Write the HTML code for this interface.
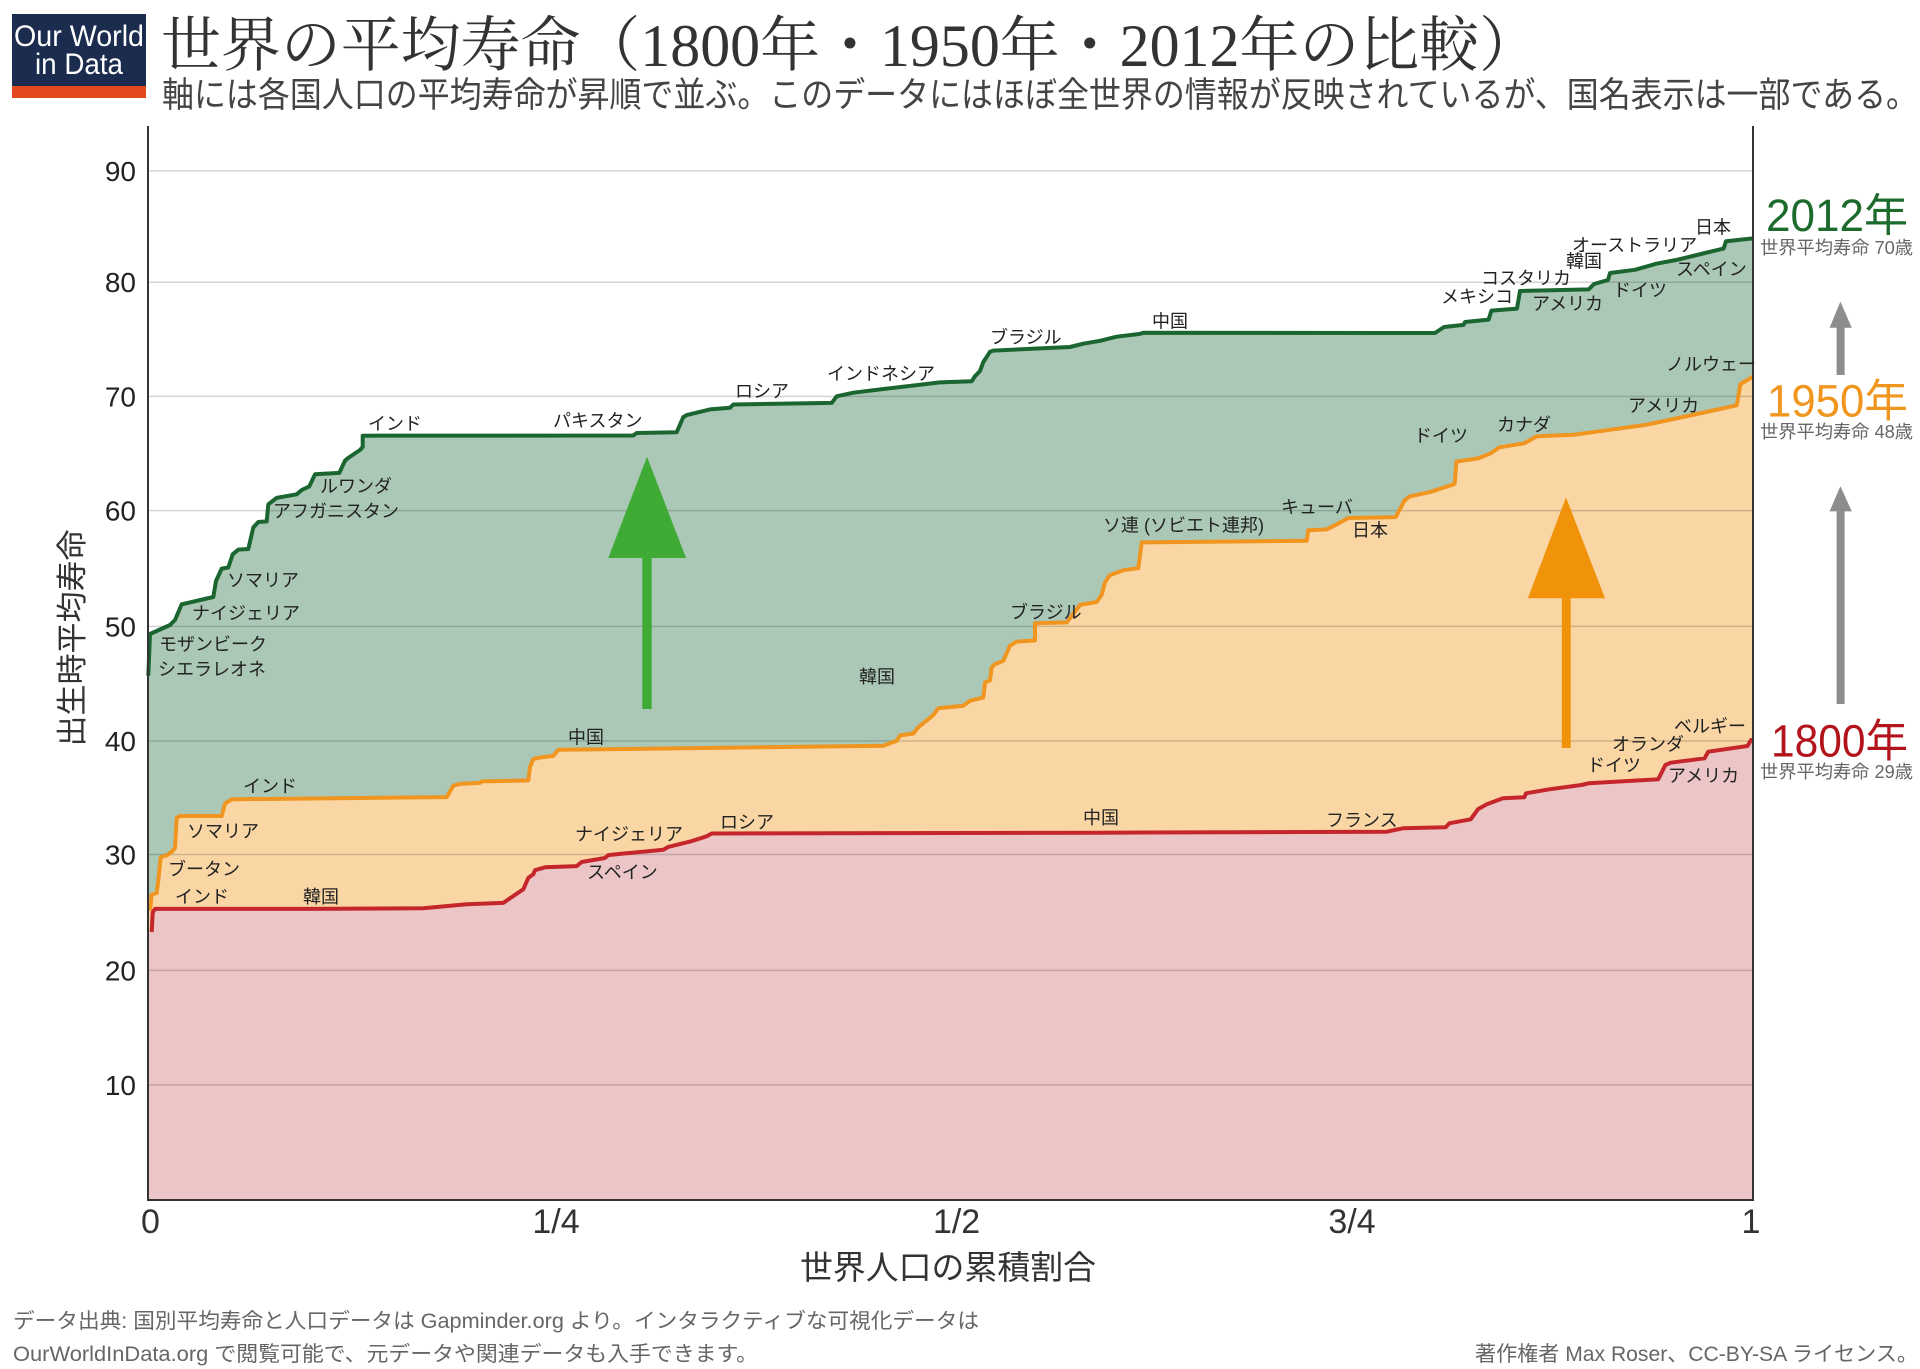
<!DOCTYPE html>
<html><head><meta charset="utf-8"><style>
html,body{margin:0;padding:0;background:#fff;}
svg{display:block;}
.lab{font-family:"Liberation Sans","Noto Sans CJK JP",sans-serif;font-size:18px;fill:#222;}
.tick{font-family:"Liberation Sans","Noto Sans CJK JP",sans-serif;font-size:28px;fill:#222;}
.xt{font-family:"Liberation Sans","Noto Sans CJK JP",sans-serif;font-size:34px;fill:#333;}
.sans{font-family:"Liberation Sans","Noto Sans CJK JP",sans-serif;}
</style></head><body>
<svg width="1920" height="1369" viewBox="0 0 1920 1369" xmlns="http://www.w3.org/2000/svg">
<rect width="1920" height="1369" fill="#fff"/>
<!-- logo -->
<rect x="12" y="14" width="134" height="84" fill="#1b2c4f"/>
<rect x="12" y="86" width="134" height="12" fill="#e2491e"/>
<text x="79" y="46" text-anchor="middle" class="sans" font-size="30" fill="#fff" textLength="130" lengthAdjust="spacingAndGlyphs">Our World</text>
<text x="79" y="74" text-anchor="middle" class="sans" font-size="30" fill="#fff" textLength="88" lengthAdjust="spacingAndGlyphs">in Data</text>
<!-- title -->
<text x="161" y="66" font-family="'Liberation Serif','Noto Serif CJK SC',serif" font-size="60" fill="#333" textLength="1378" lengthAdjust="spacingAndGlyphs">世界の平均寿命（1800年・1950年・2012年の比較）</text>
<text x="162" y="107" class="sans" font-size="35" fill="#444" textLength="1756" lengthAdjust="spacingAndGlyphs">軸には各国人口の平均寿命が昇順で並ぶ。このデータにはほぼ全世界の情報が反映されているが、国名表示は一部である。</text>

<!-- fills -->
<polygon fill="#abc8b6" points="148,1200 148,675.7 148.3,675.7 150,634 170,625 175,620 181.7,604.3 213.3,597 216,581 221.7,568.6 228.3,567.5 232.7,554.3 238.3,549.6 248.3,549 253.3,527.5 258.3,522 266.7,521.4 268.3,504.3 276.7,497.9 296.7,494.3 301.7,490 309.3,486.4 315,474.3 339.3,472.9 345,460.7 348.3,457.9 360,450 362.7,447 362.7,435.7 633.3,435.5 636.7,433 676.7,432.2 683.3,417.1 686.7,415.1 710,409.4 730,407.8 733.3,404.5 831.7,402.9 836.7,396.3 853.3,392.7 886.7,388.6 940,382.4 971.7,381.2 975,376.3 980,371 983.3,362 990,351.8 993.3,350.6 1070,347 1083.3,343.7 1100,340.8 1116.7,336.7 1140,333.9 1143.3,332.7 1435,333 1444,327 1463.6,324.9 1465,322 1488.6,319.6 1491.4,310.6 1517,308.6 1520,291 1588.6,289.4 1594,284 1608,280 1610,273 1635,269.8 1656.4,263.7 1678,259.6 1703,253.5 1723.6,248.6 1726,241.2 1753,238.4 1753,1200"/>
<polygon fill="#fad6a5" points="148,1200 148,910.7 150,910.7 151.7,894.6 156.7,893 158.3,880.4 160.7,857 166.7,855.4 171.7,851.8 175,848 176.7,817.9 180,816 221.7,816 225,803.6 231.7,799.3 446.7,797.1 453.3,785.7 460,783.9 480,782.9 481.7,781.4 528.3,780.4 530,767 533.3,759 540,757.5 553.3,755.9 558.3,749.8 883.3,745.7 896.7,740.8 900,735.5 913.3,733.5 918.3,727.3 933.3,715.1 938.3,708.2 963.3,705.7 970,700.8 983.3,697.6 985,682.4 990,680.4 991.7,667.3 995,664.1 1003.3,660.8 1010,645.7 1016.7,641.6 1035,640.4 1035,623.3 1066.7,622.4 1080,604.9 1096.7,602 1101.7,594.7 1105,582.4 1110,575.1 1123.3,570.2 1138.3,568.2 1141.7,542.4 1306.7,540.8 1308.3,530.2 1326.7,529.4 1333.3,526.1 1348.3,518 1395.7,517.1 1404.6,500.4 1410,496.3 1429.6,492.2 1454.6,484 1456.4,461.6 1477.9,458.4 1490.4,453.5 1499.3,447.3 1524.3,443.3 1536.8,436.3 1574.3,434.7 1610,429.8 1645.7,424.9 1699.3,413.5 1736.8,405.3 1740.4,384.1 1753,376.7 1753,1200"/>
<polygon fill="#ecc6c6" points="148,1200 148,932 151.7,932 152.7,912.5 155,908.9 306.7,908.9 423.3,908.2 466.7,904.3 503.3,902.9 510,898.2 523.3,889.3 528.3,877.9 533.3,874.3 535,870.2 545,867.3 576.7,866.1 581.7,862 605,858 608.3,855.1 620,853.9 663.3,849.8 668.3,846.9 690,841.6 706.7,836.3 711.7,833.5 1100,832.7 1386.8,831.7 1402.9,828.3 1445.7,827.3 1449.3,823.3 1470.7,819.3 1477.9,809.3 1486.8,804.3 1502.9,798.3 1524.3,797.3 1526,793.3 1549.3,789.3 1581.4,785 1588.6,783.3 1658.2,779.3 1665.4,765 1670.7,762.7 1704.6,758.3 1708.2,751.7 1747.5,746 1751,740 1753,740 1753,1200"/>

<!-- gridlines -->
<g stroke="rgba(0,0,0,0.17)" stroke-width="1.5">
<line x1="148" x2="1753" y1="170.8" y2="170.8"/>
<line x1="148" x2="1753" y1="282.2" y2="282.2"/>
<line x1="148" x2="1753" y1="396.4" y2="396.4"/>
<line x1="148" x2="1753" y1="510.6" y2="510.6"/>
<line x1="148" x2="1753" y1="626.4" y2="626.4"/>
<line x1="148" x2="1753" y1="741" y2="741"/>
<line x1="148" x2="1753" y1="854.5" y2="854.5"/>
<line x1="148" x2="1753" y1="970.4" y2="970.4"/>
<line x1="148" x2="1753" y1="1085" y2="1085"/>
</g>

<!-- lines -->
<g fill="none" stroke-width="4" stroke-linejoin="round">
<polyline stroke="#1b6630" points="148.3,675.7 150,634 170,625 175,620 181.7,604.3 213.3,597 216,581 221.7,568.6 228.3,567.5 232.7,554.3 238.3,549.6 248.3,549 253.3,527.5 258.3,522 266.7,521.4 268.3,504.3 276.7,497.9 296.7,494.3 301.7,490 309.3,486.4 315,474.3 339.3,472.9 345,460.7 348.3,457.9 360,450 362.7,447 362.7,435.7 633.3,435.5 636.7,433 676.7,432.2 683.3,417.1 686.7,415.1 710,409.4 730,407.8 733.3,404.5 831.7,402.9 836.7,396.3 853.3,392.7 886.7,388.6 940,382.4 971.7,381.2 975,376.3 980,371 983.3,362 990,351.8 993.3,350.6 1070,347 1083.3,343.7 1100,340.8 1116.7,336.7 1140,333.9 1143.3,332.7 1435,333 1444,327 1463.6,324.9 1465,322 1488.6,319.6 1491.4,310.6 1517,308.6 1520,291 1588.6,289.4 1594,284 1608,280 1610,273 1635,269.8 1656.4,263.7 1678,259.6 1703,253.5 1723.6,248.6 1726,241.2 1753,238.4"/>
<polyline stroke="#ef9520" points="150,910.7 151.7,894.6 156.7,893 158.3,880.4 160.7,857 166.7,855.4 171.7,851.8 175,848 176.7,817.9 180,816 221.7,816 225,803.6 231.7,799.3 446.7,797.1 453.3,785.7 460,783.9 480,782.9 481.7,781.4 528.3,780.4 530,767 533.3,759 540,757.5 553.3,755.9 558.3,749.8 883.3,745.7 896.7,740.8 900,735.5 913.3,733.5 918.3,727.3 933.3,715.1 938.3,708.2 963.3,705.7 970,700.8 983.3,697.6 985,682.4 990,680.4 991.7,667.3 995,664.1 1003.3,660.8 1010,645.7 1016.7,641.6 1035,640.4 1035,623.3 1066.7,622.4 1080,604.9 1096.7,602 1101.7,594.7 1105,582.4 1110,575.1 1123.3,570.2 1138.3,568.2 1141.7,542.4 1306.7,540.8 1308.3,530.2 1326.7,529.4 1333.3,526.1 1348.3,518 1395.7,517.1 1404.6,500.4 1410,496.3 1429.6,492.2 1454.6,484 1456.4,461.6 1477.9,458.4 1490.4,453.5 1499.3,447.3 1524.3,443.3 1536.8,436.3 1574.3,434.7 1610,429.8 1645.7,424.9 1699.3,413.5 1736.8,405.3 1740.4,384.1 1753,376.7"/>
<polyline stroke="#c4262b" points="151.7,932 152.7,912.5 155,908.9 306.7,908.9 423.3,908.2 466.7,904.3 503.3,902.9 510,898.2 523.3,889.3 528.3,877.9 533.3,874.3 535,870.2 545,867.3 576.7,866.1 581.7,862 605,858 608.3,855.1 620,853.9 663.3,849.8 668.3,846.9 690,841.6 706.7,836.3 711.7,833.5 1100,832.7 1386.8,831.7 1402.9,828.3 1445.7,827.3 1449.3,823.3 1470.7,819.3 1477.9,809.3 1486.8,804.3 1502.9,798.3 1524.3,797.3 1526,793.3 1549.3,789.3 1581.4,785 1588.6,783.3 1658.2,779.3 1665.4,765 1670.7,762.7 1704.6,758.3 1708.2,751.7 1747.5,746 1751,740 1753,740"/>
</g>

<!-- axes -->
<g stroke="#333" stroke-width="2">
<line x1="148" y1="126" x2="148" y2="1200"/>
<line x1="1753" y1="126" x2="1753" y2="1200"/>
<line x1="147" y1="1200" x2="1754" y2="1200"/>
</g>

<!-- arrows -->
<polygon fill="#3fab36" points="647,456.7 608.3,558 686,558"/>
<rect fill="#3fab36" x="642.3" y="557" width="9.4" height="152"/>
<polygon fill="#f0930b" points="1566,497.3 1527.9,598.3 1605,598.3"/>
<rect fill="#f0930b" x="1561.8" y="597" width="8.9" height="151"/>
<polygon fill="#8d8d8d" points="1840.4,301.6 1829.6,327.8 1851.8,327.8"/>
<rect fill="#8d8d8d" x="1836.6" y="327" width="8" height="48"/>
<polygon fill="#8d8d8d" points="1840.4,486.1 1829.6,511.4 1851.8,511.4"/>
<rect fill="#8d8d8d" x="1836.6" y="511" width="8" height="193"/>

<!-- y ticks -->
<g class="tick" text-anchor="end">
<text x="136" y="180.8">90</text>
<text x="136" y="292.2">80</text>
<text x="136" y="406.4">70</text>
<text x="136" y="520.6">60</text>
<text x="136" y="636.4">50</text>
<text x="136" y="751">40</text>
<text x="136" y="864.5">30</text>
<text x="136" y="980.4">20</text>
<text x="136" y="1095">10</text>
</g>
<!-- x ticks -->
<g class="xt" text-anchor="middle">
<text x="150.5" y="1233">0</text>
<text x="556" y="1233">1/4</text>
<text x="956.6" y="1233">1/2</text>
<text x="1352" y="1233">3/4</text>
<text x="1751" y="1233">1</text>
</g>
<text x="800" y="1279" class="sans" font-size="33" fill="#333" textLength="296" lengthAdjust="spacingAndGlyphs">世界人口の累積割合</text>
<text transform="translate(83,638) rotate(-90)" text-anchor="middle" class="sans" font-size="31" fill="#333">出生時平均寿命</text>

<!-- country labels -->
<g class="lab">
<text x="368" y="430">インド</text>
<text x="553" y="427">パキスタン</text>
<text x="735" y="397.5">ロシア</text>
<text x="827" y="380">インドネシア</text>
<text x="990" y="343.5">ブラジル</text>
<text x="1152" y="327.3">中国</text>
<text x="320" y="492.3">ルワンダ</text>
<text x="273" y="517.7">アフガニスタン</text>
<text x="227" y="586.7">ソマリア</text>
<text x="192" y="619.7">ナイジェリア</text>
<text x="159" y="650.7">モザンビーク</text>
<text x="158" y="675.7">シエラレオネ</text>
<text x="1695" y="233.7">日本</text>
<text x="1572" y="251.3">オーストラリア</text>
<text x="1566" y="267.7">韓国</text>
<text x="1481" y="284.7">コスタリカ</text>
<text x="1441" y="303.2">メキシコ</text>
<text x="1532" y="310.1">アメリカ</text>
<text x="1613" y="296.3">ドイツ</text>
<text x="1676" y="275.7">スペイン</text>
<text x="859" y="683.2">韓国</text>

<text x="1666" y="370.5">ノルウェー</text>
<text x="1628" y="412.2">アメリカ</text>
<text x="1497" y="430.9">カナダ</text>
<text x="1414" y="442">ドイツ</text>
<text x="1281" y="513.7">キューバ</text>
<text x="1103" y="531.4">ソ連 (ソビエト連邦)</text>
<text x="1352" y="536.7">日本</text>
<text x="1010" y="618.7">ブラジル</text>
<text x="568" y="743.7">中国</text>
<text x="243" y="792.3">インド</text>
<text x="187" y="837.3">ソマリア</text>
<text x="168" y="875.5">ブータン</text>

<text x="175" y="903">インド</text>
<text x="303" y="903">韓国</text>
<text x="575" y="840.3">ナイジェリア</text>
<text x="587" y="878.3">スペイン</text>
<text x="720" y="828.7">ロシア</text>
<text x="1083" y="824">中国</text>
<text x="1326" y="826.7">フランス</text>
<text x="1587" y="771.4">ドイツ</text>
<text x="1612" y="750.4">オランダ</text>
<text x="1674" y="732.7">ベルギー</text>
<text x="1668" y="782">アメリカ</text>
</g>

<!-- right legend -->
<text x="1766" y="231" class="sans" font-size="45" fill="#1d6b2c" textLength="142" lengthAdjust="spacingAndGlyphs">2012年</text>
<text x="1760" y="254" class="sans" font-size="18" fill="#666" textLength="153" lengthAdjust="spacingAndGlyphs">世界平均寿命 70歳</text>
<text x="1767" y="416.5" class="sans" font-size="45" fill="#f0961e" textLength="141" lengthAdjust="spacingAndGlyphs">1950年</text>
<text x="1760" y="438" class="sans" font-size="18" fill="#666" textLength="153" lengthAdjust="spacingAndGlyphs">世界平均寿命 48歳</text>
<text x="1771" y="756.5" class="sans" font-size="45" fill="#b3141c" textLength="137" lengthAdjust="spacingAndGlyphs">1800年</text>
<text x="1760" y="778" class="sans" font-size="18" fill="#666" textLength="153" lengthAdjust="spacingAndGlyphs">世界平均寿命 29歳</text>

<!-- footer -->
<text x="13" y="1328" class="sans" font-size="21" fill="#666" textLength="966" lengthAdjust="spacingAndGlyphs">データ出典: 国別平均寿命と人口データは Gapminder.org より。インタラクティブな可視化データは</text>
<text x="13" y="1361" class="sans" font-size="21" fill="#666" textLength="745" lengthAdjust="spacingAndGlyphs">OurWorldInData.org で閲覧可能で、元データや関連データも入手できます。</text>
<text x="1475" y="1361" class="sans" font-size="21" fill="#666" textLength="443" lengthAdjust="spacingAndGlyphs">著作権者 Max Roser、CC-BY-SA ライセンス。</text>
</svg>
</body></html>
